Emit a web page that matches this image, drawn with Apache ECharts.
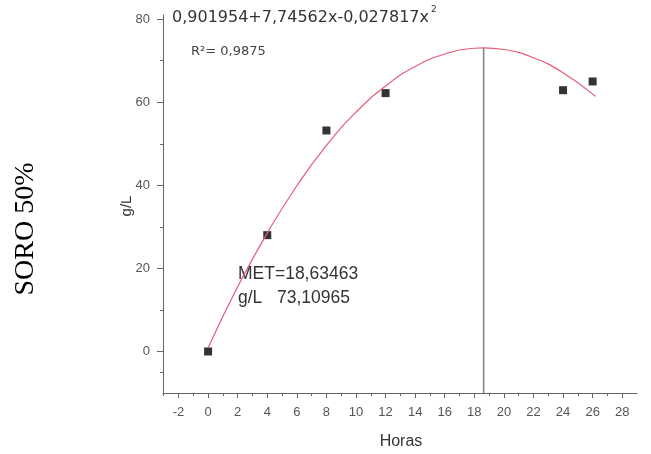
<!DOCTYPE html>
<html><head><meta charset="utf-8">
<script src="https://cdn.jsdelivr.net/npm/echarts@6/dist/echarts.min.js"></script>
<style>html,body{margin:0;padding:0;background:#fff}#c{width:651px;height:454px}</style>
</head><body><div id="c"></div>
<script>
// Observed data points (Horas, g/L)
const pointsX = [0, 4, 8, 12, 24, 26];
const pointsY = [0, 28, 53.2, 62.2, 62.9, 65];
// Fitted curve
const curveX = [0, 2, 4, 6, 8, 10, 12, 14, 16, 18, 18.63, 20, 22, 24, 26.2];
const curveY = [0.9, 15.6, 28.5, 39.9, 49.6, 57.6, 63.9, 68.6, 71.6, 73.0, 73.1, 72.7, 70.7, 67.1, 61.4];
// MET vertical line
const metX = [18.63, 18.63];
const metY = [-10, 73.1];
const xTicks = [-2, 0, 2, 4, 6, 8, 10, 12, 14, 16, 18, 20, 22, 24, 26, 28];
const xMinor = [-3, -1, 1, 3, 5, 7, 9, 11, 13, 15, 17, 19, 21, 23, 25, 27];
const yTicks = [0, 20, 40, 60, 80];
const yMinor = [-5, 10, 30, 50, 70];

const chart = echarts.init(document.getElementById('c'), null, {renderer: 'canvas'});
const axisColor = '#666';
const font = 'DejaVu Sans, Arial, sans-serif';
const lfont = 'Liberation Sans, Arial, sans-serif';
const XMIN = -3.05, XMAX = 29, YMIN = -10, YMAX = 81;
chart.setOption({
  animation: false,
  backgroundColor: '#fff',
  grid: {left: 163, right: 14, top: 15, bottom: 61},
  xAxis: [{
    type: 'value', min: XMIN, max: XMAX,
    axisLine: {show: true, onZero: false, lineStyle: {color: axisColor, width: 1}},
    axisTick: {show: true, customValues: xTicks, length: 5, lineStyle: {color: axisColor}},
    axisLabel: {customValues: xTicks, color: '#555', fontSize: 13, fontFamily: lfont, margin: 13},
    splitLine: {show: false}
  }, {
    type: 'value', min: XMIN, max: XMAX, position: 'bottom',
    axisLine: {show: false, onZero: false},
    axisTick: {show: true, customValues: xMinor, length: 3, lineStyle: {color: axisColor}},
    axisLabel: {show: false},
    splitLine: {show: false}
  }],
  yAxis: [{
    type: 'value', min: YMIN, max: YMAX,
    axisLine: {show: true, onZero: false, lineStyle: {color: axisColor, width: 1}},
    axisTick: {show: true, customValues: yTicks, length: 6, lineStyle: {color: axisColor}},
    axisLabel: {customValues: yTicks, color: '#555', fontSize: 13, fontFamily: lfont, margin: 13},
    splitLine: {show: false}
  }, {
    type: 'value', min: YMIN, max: YMAX, position: 'left',
    axisLine: {show: false, onZero: false},
    axisTick: {show: true, customValues: yMinor, length: 3, lineStyle: {color: axisColor}},
    axisLabel: {show: false},
    splitLine: {show: false}
  }],
  series: [{
    type: 'line', xAxisIndex: 0, yAxisIndex: 0,
    data: curveX.map((x, i) => [x, curveY[i]]),
    smooth: true, showSymbol: false,
    lineStyle: {color: '#e65c78', width: 1.2}
  }, {
    type: 'line', xAxisIndex: 0, yAxisIndex: 0,
    data: metX.map((x, i) => [x, metY[i]]),
    showSymbol: false,
    lineStyle: {color: '#808080', width: 1.5}
  }, {
    type: 'scatter', xAxisIndex: 0, yAxisIndex: 0,
    data: pointsX.map((x, i) => [x, pointsY[i]]),
    symbol: 'rect', symbolSize: 8,
    itemStyle: {color: '#000'}
  }],
  graphic: [
    {type: 'text', left: 172, top: 10, style: {text: '0,901954+7,74562x-0,027817x', fill: '#333', font: '16px ' + font}},
    {type: 'text', left: 431, top: 5, style: {text: '2', fill: '#333', font: '9px ' + font}},
    {type: 'text', left: 191, top: 45, style: {text: 'R²= 0,9875', fill: '#444', font: '13px ' + font}},
    {type: 'text', left: 238, top: 265, style: {text: 'MET=18,63463', fill: '#333', font: '17.5px ' + lfont}},
    {type: 'text', left: 238, top: 289, style: {text: 'g/L   73,10965', fill: '#333', font: '17.5px ' + lfont}},
    {type: 'text', x: 127, y: 206, rotation: Math.PI / 2, style: {text: 'g/L', fill: '#333', font: '15px ' + lfont, align: 'center', verticalAlign: 'middle'}},
    {type: 'text', x: 401, y: 442, style: {text: 'Horas', fill: '#333', font: '16px ' + lfont, align: 'center', verticalAlign: 'middle'}},
    {type: 'text', x: 26, y: 229, rotation: Math.PI / 2, style: {text: 'SORO 50%', fill: '#000', font: '28px Liberation Serif, Times New Roman, serif', align: 'center', verticalAlign: 'middle'}}
  ]
});
</script></body></html>
